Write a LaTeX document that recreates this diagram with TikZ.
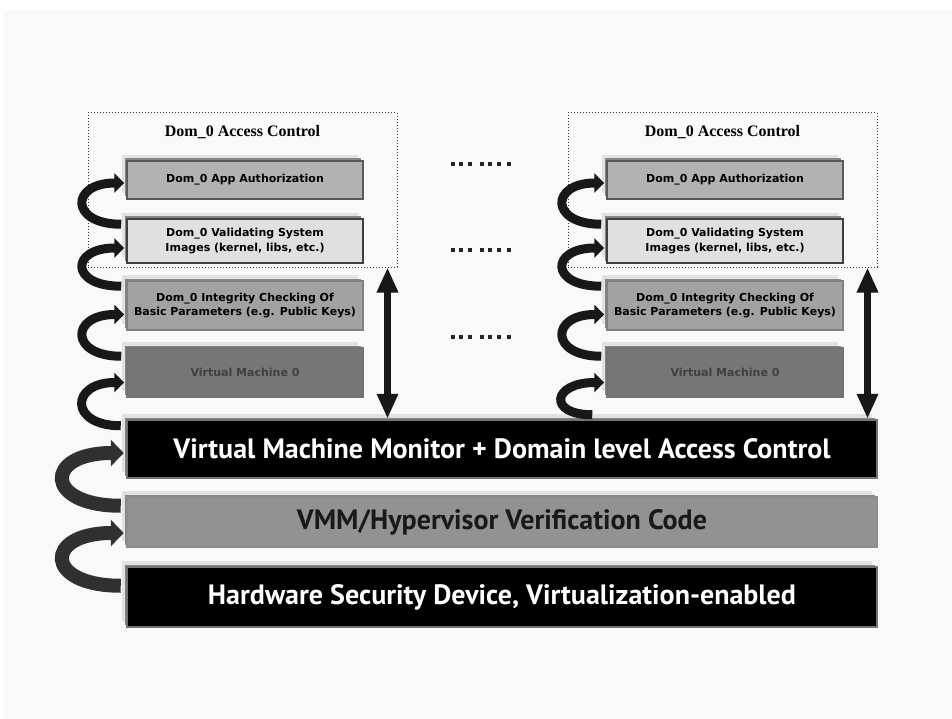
\documentclass[tikz,border=0pt]{standalone}
\usepackage{fontspec}
\setmainfont{PT Sans}
\newfontfamily\titlefont{Liberation Serif}
\newfontfamily\layerfont{DejaVu Sans}
\usetikzlibrary{arrows.meta,positioning,shadows,calc}
\definecolor{paper}{RGB}{249,249,249}
\definecolor{ribbon}{RGB}{24,24,24}
\definecolor{ribbonbig}{RGB}{48,48,48}
\definecolor{shadowlight}{RGB}{226,226,226}
\definecolor{shadowdark}{RGB}{134,134,134}
\definecolor{authgray}{RGB}{178,178,178}
\definecolor{valgray}{RGB}{224,224,224}
\definecolor{intgray}{RGB}{162,162,162}
\definecolor{vmgray}{RGB}{118,118,118}
\definecolor{vergray}{RGB}{146,146,146}

\tikzset{
  layer/.style={rectangle, align=center, inner sep=1pt, line width=1.5pt,
    general shadow={draw=none, fill=shadowlight, shadow xshift=-5pt, shadow yshift=6pt},
    general shadow={draw=none, fill=shadowdark, shadow xshift=-2.5pt, shadow yshift=2.5pt}},
  domlayer/.style={layer, minimum width=236pt, font=\layerfont\fontsize{11}{14.5}\selectfont\bfseries},
  baselayer/.style={layer, minimum width=750pt, line width=2.5pt, draw=black!55,
    font=\fontsize{28}{30}\selectfont\bfseries},
  aclbox/.style={draw=black!80, dotted, line width=1pt, minimum width=309pt, minimum height=154pt},
  acltitle/.style={font=\titlefont\fontsize{16}{16}\selectfont\bfseries},
  helix/.style={draw=ribbon, line width=9pt, -{Triangle[length=10pt,width=19pt]}},
  bighelix/.style={draw=ribbonbig, line width=14pt, -{Triangle[length=13pt,width=26pt]}},
  updown/.style={draw=ribbon, line width=7pt,
    {Triangle[length=25pt,width=20pt]}-{Triangle[length=25pt,width=20pt]}},
}

\begin{document}
\begin{tikzpicture}[x=1pt,y=-1pt]
  \useasboundingbox (0,0) rectangle (952,719);
  \fill[white] (0,0) rectangle (952,719);
  \fill[paper] (4,10) rectangle (952,719);

  % the base layers
  \node[baselayer, fill=black, text=white, minimum height=58pt] (vmm) at (502,449)
    {Virtual Machine Monitor + Domain level Access Control};
  \node[baselayer, fill=vergray, draw=black!45, text=black!90, minimum height=50pt] (verif) at (502,522)
    {VMM/Hypervisor Verification Code};
  \node[baselayer, fill=black, text=white, minimum height=60pt] (hw) at (502,597)
    {Hardware Security Device, Virtualization-enabled};

  % one Dom_0 stack per virtual machine
  \foreach \c/\x in {l/245,r/725}{
    \node[aclbox] (acl-\c) at (\x-2.5,190) {};
    \node[acltitle] (t-\c) at ([yshift=-20pt]acl-\c.north) {Dom\_0 Access Control};
    \node[domlayer, fill=authgray, draw=black!65, minimum height=38pt] (app-\c) at (\x,180)
      {Dom\_0 App Authorization};
    \node[domlayer, fill=valgray, draw=black!75, minimum height=44pt] (val-\c) at (\x,241)
      {Dom\_0 Validating System\\ Images (kernel, libs, etc.)};
    \node[domlayer, fill=intgray, draw=black!50, minimum height=49pt] (int-\c) at (\x,305.5)
      {Dom\_0 Integrity Checking Of\\Basic Parameters (e.g. Public Keys)};
    \node[domlayer, fill=vmgray, draw=black!55, text=black!75, minimum height=49pt] (vm0-\c) at (\x,372.5)
      {Virtual Machine 0};

    \draw[helix] ([xshift=-5pt,yshift=-6pt]val-\c.north west) .. controls +(-52,0) and +(-54,0) .. ([xshift=-2pt,yshift=-3pt]app-\c.west);
    \draw[helix] ([xshift=-5pt,yshift=-6pt]int-\c.north west) .. controls +(-52,0) and +(-54,0) .. ([xshift=-2pt,yshift=-7pt]val-\c.west);
    \draw[helix] ([xshift=-5pt,yshift=-9pt]vm0-\c.north west) .. controls +(-52,0) and +(-54,0) .. ([xshift=-2pt,yshift=-9pt]int-\c.west);
    \draw[updown] ([xshift=-10pt]acl-\c.south east) -- ([xshift=-10pt]acl-\c.south east |- vmm.north);
  }
  \draw[helix] ([xshift=-5pt,yshift=-7pt]vmm.north west) .. controls +(-52,0) and +(-54,0) .. ([xshift=-2pt,yshift=-10pt]vm0-l.west);
  \draw[helix] ([xshift=-14pt,yshift=4pt]vm0-r.west |- vmm.north) .. controls +(-45,0) and +(-52,0) .. ([xshift=-2pt,yshift=-10pt]vm0-r.west);
  \draw[bighelix] ([xshift=-5pt,yshift=-10pt]verif.north west) .. controls +(-77,0) and +(-80,0) .. ([xshift=-2pt,yshift=-4pt]vmm.west);
  \draw[bighelix] ([xshift=-5pt,yshift=-20pt]hw.north west) .. controls +(-77,0) and +(-80,0) .. ([xshift=-2pt,yshift=-11pt]verif.west);

  % more virtual machines
  \foreach \y in {164,250,337}
    \foreach \x in {453,461,470,482,490,499,509}
      \fill[black!85] (\x-1.6,\y-1.6) rectangle ++(3.2,3.2);
\end{tikzpicture}
\end{document}
